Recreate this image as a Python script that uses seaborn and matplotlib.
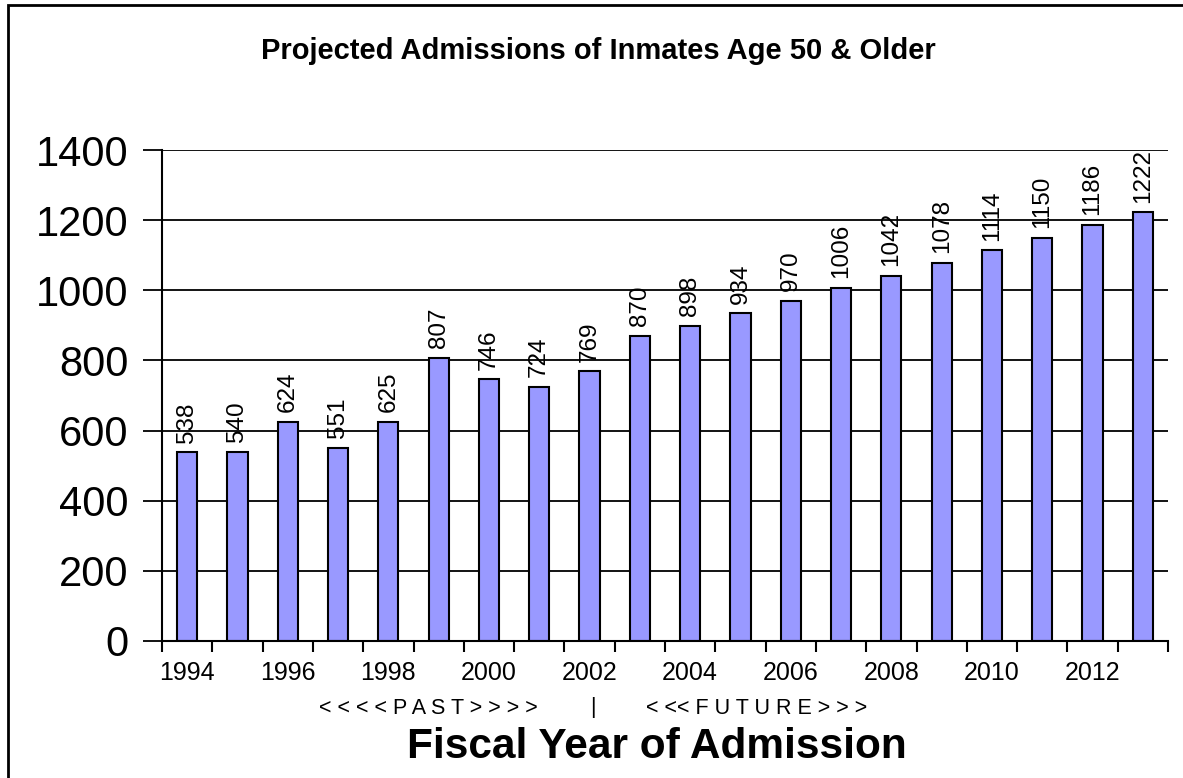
import matplotlib
matplotlib.use("Agg")
import matplotlib.pyplot as plt
import seaborn as sns
import pandas as pd
import numpy as np
from matplotlib.patches import Rectangle
from matplotlib.ticker import FixedLocator

# Fiscal years and projected admissions of inmates age 50 and older
years = [1994, 1995, 1996, 1997, 1998, 1999, 2000, 2001, 2002, 2003,
         2004, 2005, 2006, 2007, 2008, 2009, 2010, 2011, 2012, 2013]
admissions = [538, 540, 624, 551, 625, 807, 746, 724, 769, 870,
              898, 934, 970, 1006, 1042, 1078, 1114, 1150, 1186, 1222]
y_ticks = [0, 200, 400, 600, 800, 1000, 1200, 1400]

title = "Projected Admissions of Inmates Age 50 & Older"
x_title = "Fiscal Year of Admission"
past_label = "< < < < P A S T > > > >"
divider_label = "|"
future_label = "< << F U T U R E > > >"

sns.set_theme(style="white")
plt.rcParams["font.family"] = ["Liberation Sans", "DejaVu Sans"]
plt.rcParams["text.color"] = "black"
plt.rcParams["xtick.color"] = "black"
plt.rcParams["ytick.color"] = "black"

df = pd.DataFrame({"year": [str(y) for y in years], "admissions": admissions})

fig = plt.figure(figsize=(11.83, 7.78), dpi=100)
ax = fig.add_axes([162 / 1183, 1 - 641 / 778, (1168 - 162) / 1183, (641 - 150) / 778])

sns.barplot(data=df, x="year", y="admissions", ax=ax, color="#9999FF",
            width=0.4, edgecolor="black", linewidth=1.5, saturation=1)

ax.set_ylim(0, 1400)
ax.set_xlim(-0.5, len(years) - 0.5)
ax.set_yticks(y_ticks)
ax.set_yticklabels([str(t) for t in y_ticks], fontsize=30)
ax.yaxis.grid(True, color="black", linewidth=1.3)
ax.set_axisbelow(True)

# Year labels on every second category, tick marks on category boundaries
ax.set_xticks(range(0, len(years), 2))
ax.set_xticklabels([str(y) for y in years[::2]], fontsize=18)
ax.xaxis.set_minor_locator(FixedLocator(np.arange(-0.5, len(years), 1.0)))
ax.tick_params(axis="x", which="major", length=0, pad=14.5)
ax.tick_params(axis="x", which="minor", length=8, width=1.5, color="black", bottom=True)
ax.tick_params(axis="y", which="major", length=14, width=1.3, color="black", left=True, pad=10)

for side in ["top", "right"]:
    ax.spines[side].set_visible(False)
for side in ["left", "bottom"]:
    ax.spines[side].set_color("black")
    ax.spines[side].set_linewidth(1.5)

ax.set_xlabel("")
ax.set_ylabel("")

# Value labels above each bar
for container in ax.containers:
    ax.bar_label(container, labels=[str(v) for v in admissions], rotation=90,
                 padding=7, fontsize=17.5, color="black")

fig.text(598 / 1183, 1 - 51 / 778, title, ha="center", va="center",
         fontsize=21, fontweight="bold")
fig.text(428 / 1183, 1 - 708 / 778, past_label, ha="center", va="center", fontsize=15.5)
fig.text(593 / 1183, 1 - 708 / 778, divider_label, ha="center", va="center", fontsize=15.5)
fig.text(757 / 1183, 1 - 708 / 778, future_label, ha="center", va="center", fontsize=15.5)
fig.text(657 / 1183, 1 - 747 / 778, x_title, ha="center", va="center",
         fontsize=30.5, fontweight="bold")

# Outer chart border
fig.patches.append(Rectangle((8 / 1183, -0.1), 1.2, 1.1 - 5 / 778,
                             transform=fig.transFigure, fill=False,
                             edgecolor="black", linewidth=2))

fig.savefig("out.png", dpi=100)
